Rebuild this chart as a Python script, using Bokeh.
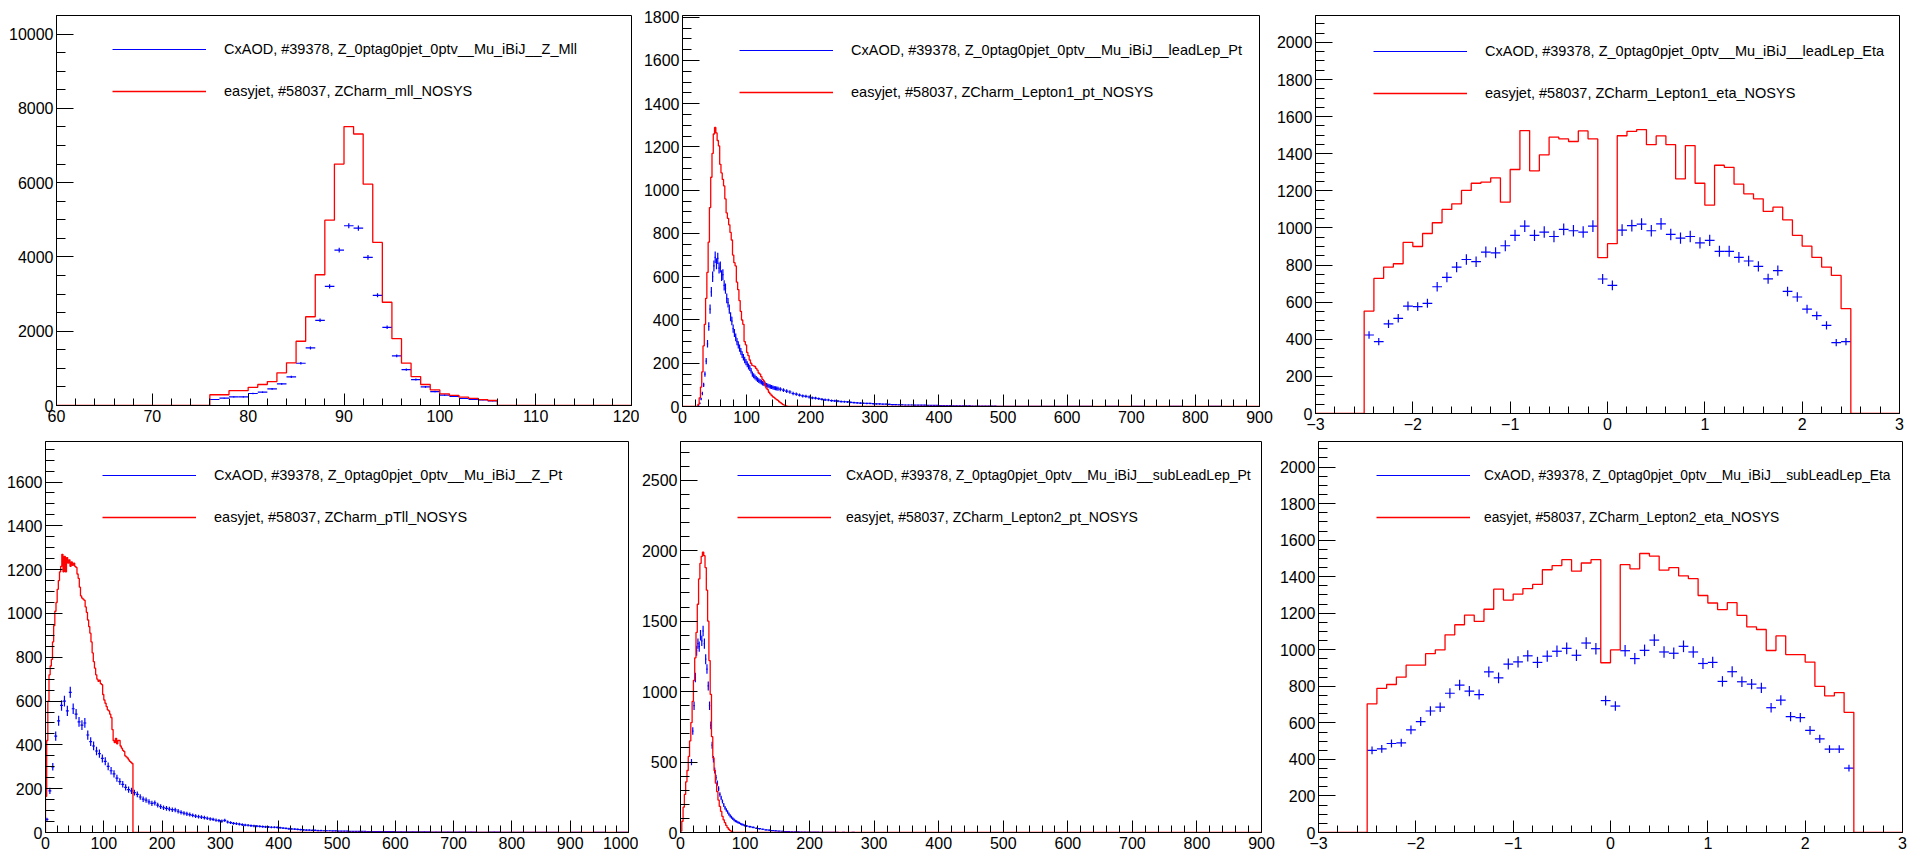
import math
from bokeh.plotting import figure
from bokeh.layouts import row, column
from bokeh.models import Range1d, SingleIntervalTicker, Legend, LegendItem, ColumnDataSource
from bokeh.embed import file_html
from bokeh.resources import INLINE

# ---------------------------------------------------------------- data
cx_prefix = "CxAOD, #39378, Z_0ptag0pjet_0ptv__Mu_iBiJ__"
ej_prefix = "easyjet, #58037, "

# Z mass (1 GeV bins from 76)
mll_start, mll_width = 76, 1
mll_cxaod = [161, 197, 233, 233, 323, 358, 448, 582, 771, 1138, 1550, 2294, 3208, 4185, 4839,
             4776, 3987, 2966, 2106, 1335, 968, 699, 502, 376, 278, 242, 188, 161, 152, 125]
mll_easyjet = [290, 290, 400, 400, 490, 565, 645, 880, 1150, 1730, 2390, 3520, 4990, 6500, 7510,
               7310, 5960, 4390, 2780, 1800, 1140, 780, 565, 420, 315, 270, 225, 190, 160, 135]

# leading lepton pT
lep1pt_ej_start, lep1pt_ej_width = 22, 2
lep1pt_easyjet = [0, 10, 40, 90, 160, 280, 380, 500, 620, 760, 920, 1060, 1170, 1260, 1290, 1265,
                  1230, 1205, 1120, 1080, 1050, 1020, 960, 895, 870, 840, 805, 770, 700, 665, 650,
                  575, 540, 490, 440, 400, 380, 300, 285, 250, 235, 215, 200, 190, 188, 185, 176,
                  168, 155, 150, 138, 125, 118, 100, 85, 78, 66, 58, 52, 45, 42, 36, 32, 28, 22,
                  18, 13, 9, 6, 4, 2]
lep1pt_cx_start, lep1pt_cx_width = 24, 2
lep1pt_cxaod = [5, 15, 35, 60, 100, 150, 210, 290, 370, 450, 530, 600, 650, 690, 660, 685, 640,
                645, 605, 610, 560, 545, 500, 480, 450, 415, 395, 360, 340, 320, 300, 285, 270,
                255, 240, 228, 215, 205, 195, 185, 178, 165, 150, 142, 136, 130, 124, 120, 116,
                112, 108, 105, 102, 99, 96, 94, 92, 90, 88, 86, 84, 83, 82]
lep1pt_cx_mid_start, lep1pt_cx_mid_width = 150, 5
lep1pt_cxaod_mid = [80, 76, 71, 67, 60, 57, 53, 49, 47, 44, 40, 39, 36, 33, 31, 30, 27, 26, 25,
                    23, 22, 21, 19, 18, 17, 16, 15, 14, 14, 13, 12, 12, 11, 11, 10, 9, 9, 8, 8,
                    7, 7, 7, 6, 6, 6, 6, 5, 5, 5, 5, 4, 4, 4, 4, 3, 3, 3, 3, 3, 3, 2, 2, 2, 2, 2,
                    2, 2, 2, 1, 1]
lep1pt_cx_tail_start, lep1pt_cx_tail_width = 500, 20
lep1pt_cxaod_tail = [1, 1, 1, 1, 1, 1, 1, 0, 1, 0, 1, 0, 0, 1, 0, 0, 1, 0, 0, 0]

# eta (0.1 bins from -2.5)
eta_start, eta_width = -2.5, 0.1
lep1eta_easyjet = [552, 728, 789, 807, 922, 900, 970, 1028, 1100, 1130,
                   1202, 1241, 1247, 1270, 1139, 1315, 1525, 1308, 1394, 1489,
                   1480, 1466, 1523, 1480, 840, 915, 1497, 1521, 1530, 1449,
                   1496, 1449, 1265, 1444, 1241, 1123, 1338, 1327, 1236, 1184,
                   1157, 1089, 1112, 1044, 960, 902, 841, 789, 744, 565]
lep1eta_cxaod = [423, 387, 483, 513, 579, 576, 594, 683, 734, 789,
                 830, 818, 870, 866, 904, 960, 1010, 960, 978, 954,
                 992, 985, 978, 1010, 725, 691, 988, 1013, 1021, 985,
                 1022, 965, 945, 954, 920, 933, 874, 874, 841, 822,
                 793, 726, 770, 658, 628, 563, 527, 475, 382, 387]
lep2eta_easyjet = [704, 789, 810, 850, 916, 916, 979, 999, 1082, 1137,
                   1190, 1155, 1222, 1332, 1272, 1305, 1335, 1358, 1438, 1461,
                   1493, 1430, 1475, 1493, 929, 999, 1466, 1443, 1527, 1513,
                   1436, 1450, 1405, 1389, 1297, 1256, 1220, 1258, 1188, 1125,
                   1111, 996, 1076, 974, 974, 933, 800, 748, 766, 658]
lep2eta_cxaod = [449, 458, 487, 491, 562, 607, 665, 686, 762, 807,
                 774, 755, 879, 846, 922, 934, 967, 931, 965, 992,
                 1008, 970, 1037, 1006, 722, 692, 995, 952, 997, 1053,
                 988, 981, 1019, 988, 925, 931, 827, 880, 825, 812,
                 791, 683, 724, 634, 629, 559, 512, 456, 456, 352]

# Z pT
zpt_ej_start, zpt_ej_width = 0, 2
zpt_easyjet = [165, 420, 600, 720, 760, 790, 870, 945, 1010, 1050, 1110, 1150, 1190, 1215, 1270,
               1190, 1260, 1190, 1255, 1230, 1245, 1215, 1235, 1220, 1230, 1215, 1210, 1180, 1160,
               1120, 1080, 1070, 1065, 1060, 1030, 1005, 970, 940, 910, 870, 820, 780, 750, 720,
               700, 690, 695, 680, 675, 630, 605, 590, 575, 560, 555, 540, 525, 470, 420, 410,
               430, 405, 420, 420, 395, 385, 375, 370, 350, 345, 340, 332, 325, 320, 315]
zpt_cx_start, zpt_cx_width = 0, 5
zpt_cxaod = [60, 190, 300, 440, 510, 580, 600, 555, 640, 565, 540, 505, 490, 500, 445, 415, 395,
             372, 360, 338, 325, 302, 282, 268, 248, 232, 220, 206, 196, 190, 182, 174, 162, 152,
             148, 140, 133, 135, 125, 118, 113, 110, 107, 104, 103, 97, 92, 88, 85, 82, 78, 75,
             72, 70, 68, 65, 62, 60, 56, 54, 52, 55, 48, 45, 42, 40, 38, 36, 34, 33, 31, 30, 29,
             28, 27, 26, 25, 24, 24, 23, 22, 20, 19, 17, 16, 15, 14, 13, 12, 11, 11, 10, 10, 9,
             9, 8, 8, 8, 7, 7, 6, 6, 6, 6, 5, 5, 5, 5, 5, 5, 4, 4]
zpt_cx_tail_start, zpt_cx_tail_width = 560, 20
zpt_cxaod_tail = [4, 4, 3, 3, 3, 2, 2, 2, 2, 1, 2, 1, 1, 1, 1, 1, 0, 1, 0, 1, 0, 1]

# sub-leading lepton pT
lep2pt_ej_start, lep2pt_ej_width = 0, 2
lep2pt_easyjet = [10, 80, 180, 270, 360, 440, 540, 650, 780, 930, 1080, 1240, 1420, 1620, 1800,
                  1910, 1960, 1990, 1965, 1880, 1720, 1500, 1220, 980, 680, 530, 440, 350, 290,
                  230, 185, 150, 115, 90, 70, 50, 35, 23, 14, 8, 3]
lep2pt_cx_start, lep2pt_cx_width = 16, 2
lep2pt_cxaod = [500, 720, 900, 1100, 1290, 1340, 1320, 1400, 1360, 1430, 1340, 1230, 1160, 1040,
                900, 760, 620, 520, 440, 390, 350, 310, 270, 245, 220, 195, 175, 160, 145, 130,
                118, 108, 98, 90, 82, 78, 72, 68, 62, 58, 55, 50]
lep2pt_cx_tail_start, lep2pt_cx_tail_width = 100, 5
lep2pt_cxaod_tail = [46, 41, 36, 30, 27, 23, 19, 17, 14, 12, 10, 9, 7, 6, 5, 5, 4, 3, 3, 2, 2, 2,
                     2, 1, 1, 1, 1, 1, 1, 0, 1, 0, 0, 1]

eta_ticks = [-3, -2, -1]
eta_tick_labels = ["\u22123", "\u22122", "\u22121"]

# ---------------------------------------------------------------- style
BLUE = "#0000ff"
RED = "#ff0000"
FONT = "Liberation Sans"


def edges(start, width, n):
    return [start + width * i for i in range(n + 1)]


def make_fig(xr, yr, fw, fh, l, r, t, b, xint, xminor, yint, yminor):
    p = figure(frame_width=fw, frame_height=fh, x_range=Range1d(*xr), y_range=Range1d(*yr),
               output_backend="svg", toolbar_location=None,
               min_border_left=l, min_border_right=r, min_border_top=t, min_border_bottom=b,
               background_fill_color="white", border_fill_color="white")
    p.grid.visible = False
    p.outline_line_color = "black"
    p.outline_line_width = 1
    p.xaxis.ticker = SingleIntervalTicker(interval=xint, num_minor_ticks=xminor)
    p.yaxis.ticker = SingleIntervalTicker(interval=yint, num_minor_ticks=yminor)
    for ax in (p.xaxis, p.yaxis):
        ax.axis_line_color = "black"
        ax.major_tick_line_color = "black"
        ax.minor_tick_line_color = "black"
        ax.major_tick_out = 0
        ax.minor_tick_out = 0
        ax.major_label_text_font = FONT
        ax.major_label_text_font_size = "16px"
        ax.major_label_text_color = "black"
    p.xaxis.major_tick_in = 12
    p.xaxis.minor_tick_in = 7
    p.yaxis.major_tick_in = 17
    p.yaxis.minor_tick_in = 9
    p.xaxis.major_label_standoff = 4
    p.yaxis.major_label_standoff = 3
    return p


def draw_cxaod(p, segs):
    d = dict(x0=[], x1=[], xc=[], y=[], ylo=[], yhi=[])
    for start, width, vals in segs:
        e = edges(start, width, len(vals))
        for i, v in enumerate(vals):
            if v <= 0:
                continue
            err = math.sqrt(v)
            d["x0"].append(e[i]); d["x1"].append(e[i + 1])
            d["xc"].append(0.5 * (e[i] + e[i + 1]))
            d["y"].append(v); d["ylo"].append(v - err); d["yhi"].append(v + err)
    src = ColumnDataSource(d)
    r = p.segment(x0="x0", y0="y", x1="x1", y1="y", source=src, line_color=BLUE, line_width=1.2)
    p.segment(x0="xc", y0="ylo", x1="xc", y1="yhi", source=src, line_color=BLUE, line_width=1.2)
    return r


def draw_easyjet(p, start, width, vals):
    e = edges(start, width, len(vals))
    xs = [p.x_range.start] + e + [p.x_range.end]
    ys = [0] + list(vals) + [0, 0]
    return p.step(xs, ys, mode="after", line_color=RED, line_width=1.3)


def add_legend(p, rb, rr, labels, dx, dy_first, fh, size="14.5px", standoff=18):
    top = dy_first - 10
    leg = Legend(items=[LegendItem(label=labels[0], renderers=[rb]),
                        LegendItem(label=labels[1], renderers=[rr])],
                 location=(dx, fh - top - 62), orientation="vertical",
                 glyph_width=94, glyph_height=20, label_height=20, label_standoff=standoff,
                 spacing=22, padding=0, margin=0, border_line_alpha=0, background_fill_alpha=0,
                 label_text_font=FONT, label_text_font_size=size, label_text_color="black")
    p.add_layout(leg)


# ---------------------------------------------------------------- panels
# 1: mll
p1 = make_fig((60, 120), (0, 10500), 575, 390, 56, 8, 12, 35, 10, 5, 2000, 4)
b = draw_cxaod(p1, [(mll_start, mll_width, mll_cxaod)])
r = draw_easyjet(p1, mll_start, mll_width, mll_easyjet)
add_legend(p1, b, r, [cx_prefix + "Z_Mll", ej_prefix + "ZCharm_mll_NOSYS"], 56, 34, 390)

# 2: leading lepton pT
p2 = make_fig((0, 900), (0, 1808), 577, 391, 43, 14, 15, 31, 100, 5, 200, 4)
b = draw_cxaod(p2, [(lep1pt_cx_start, lep1pt_cx_width, lep1pt_cxaod),
                    (lep1pt_cx_mid_start, lep1pt_cx_mid_width, lep1pt_cxaod_mid),
                    (lep1pt_cx_tail_start, lep1pt_cx_tail_width, lep1pt_cxaod_tail)])
r = draw_easyjet(p2, lep1pt_ej_start, lep1pt_ej_width, lep1pt_easyjet)
add_legend(p2, b, r, [cx_prefix + "leadLep_Pt", ej_prefix + "ZCharm_Lepton1_pt_NOSYS"], 57, 35, 391)

# 3: leading lepton eta
p3 = make_fig((-3, 3), (0, 2145), 584, 398, 40, 18, 13, 26, 1, 5, 200, 4)
b = draw_cxaod(p3, [(eta_start, eta_width, lep1eta_cxaod)])
r = draw_easyjet(p3, eta_start, eta_width, lep1eta_easyjet)
add_legend(p3, b, r, [cx_prefix + "leadLep_Eta", ej_prefix + "ZCharm_Lepton1_eta_NOSYS"], 58, 36, 398)

# 4: Z pT
p4 = make_fig((0, 1000), (0, 1785), 583, 391, 45, 10, 4, 23, 100, 5, 200, 4)
b = draw_cxaod(p4, [(zpt_cx_start, zpt_cx_width, zpt_cxaod),
                    (zpt_cx_tail_start, zpt_cx_tail_width, zpt_cxaod_tail)])
r = draw_easyjet(p4, zpt_ej_start, zpt_ej_width, zpt_easyjet)
add_legend(p4, b, r, [cx_prefix + "Z_Pt", ej_prefix + "ZCharm_pTll_NOSYS"], 57, 34, 391)

# 5: sub-leading lepton pT
p5 = make_fig((0, 900), (0, 2775), 581, 391, 40, 15, 4, 23, 100, 5, 500, 5)
b = draw_cxaod(p5, [(lep2pt_cx_start, lep2pt_cx_width, lep2pt_cxaod),
                    (lep2pt_cx_tail_start, lep2pt_cx_tail_width, lep2pt_cxaod_tail)])
r = draw_easyjet(p5, lep2pt_ej_start, lep2pt_ej_width, lep2pt_easyjet)
add_legend(p5, b, r, [cx_prefix + "subLeadLep_Pt", ej_prefix + "ZCharm_Lepton2_pt_NOSYS"], 57, 34, 391,
           size="14px", standoff=15)

# 6: sub-leading lepton eta
p6 = make_fig((-3, 3), (0, 2140), 584, 391, 40, 17, 4, 23, 1, 5, 200, 4)
b = draw_cxaod(p6, [(eta_start, eta_width, lep2eta_cxaod)])
r = draw_easyjet(p6, eta_start, eta_width, lep2eta_easyjet)
add_legend(p6, b, r, [cx_prefix + "subLeadLep_Eta", ej_prefix + "ZCharm_Lepton2_eta_NOSYS"], 58, 34, 391,
           size="13.8px", standoff=14)

for p in (p3, p6):
    p.xaxis.major_label_overrides = dict(zip(eta_ticks, eta_tick_labels))

layout = column(row(p1, p2, p3), row(p4, p5, p6))
open("out.html", "w").write(file_html(layout, INLINE))
